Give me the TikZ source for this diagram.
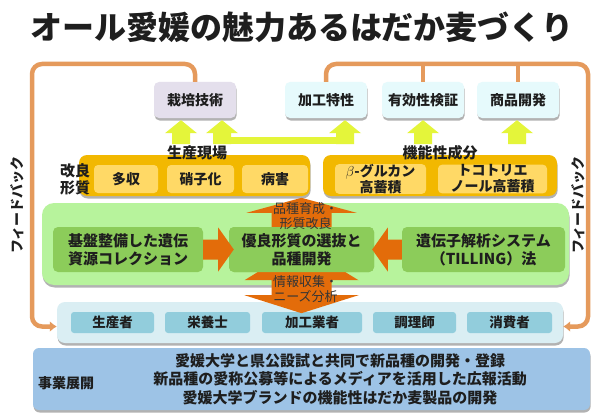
\documentclass[tikz,border=0pt]{standalone}
\usepackage{fontspec}
\setmainfont{Noto Sans CJK JP}
\definecolor{FbOrange}{RGB}{229,154,92}
\definecolor{ArrOrange}{RGB}{227,108,10}
\definecolor{ArrYellow}{RGB}{228,245,58}
\definecolor{Lavender}{RGB}{228,223,236}
\definecolor{IceBlue}{RGB}{230,250,252}
\definecolor{Gold}{RGB}{242,184,0}
\definecolor{LightGold}{RGB}{255,217,102}
\definecolor{PaleGreen}{RGB}{183,243,156}
\definecolor{MidGreen}{RGB}{140,204,90}
\definecolor{PaleCyan}{RGB}{218,238,243}
\definecolor{Teal}{RGB}{146,205,220}
\definecolor{SkyBlue}{RGB}{157,195,230}
\definecolor{InkGray}{RGB}{30,30,30}
\usetikzlibrary{positioning,shadows,calc,arrows.meta}
\newcommand\jfs[2]{\fontsize{#1}{#2}\selectfont}
\tikzset{>=latex}
\tikzset{softshadow/.style={drop shadow={shadow xshift=0.6pt,shadow yshift=-2.5pt,fill=black,opacity=.3}}}
\tikzset{topbox/.style={rectangle,rounded corners=5pt,softshadow,inner sep=0pt,minimum width=82pt,minimum height=36pt,text=InkGray,font=\jfs{14}{17}\bfseries}}
\tikzset{groupbox/.style={rectangle,rounded corners=8pt,fill=Gold,softshadow,inner sep=0pt,minimum height=41pt}}
\tikzset{subbox/.style={rectangle,rounded corners=4pt,fill=LightGold,inner sep=0pt,minimum height=28pt,align=center,text=InkGray,font=\jfs{14}{16}\bfseries}}
\tikzset{labeltext/.style={inner sep=0pt,align=center,text=InkGray,font=\jfs{15}{17}\bfseries}}
\tikzset{greenbox/.style={rectangle,rounded corners=5pt,fill=MidGreen,inner sep=0pt,minimum height=45pt,align=center,text=InkGray,font=\jfs{15}{18}\bfseries}}
\tikzset{actor/.style={rectangle,rounded corners=3pt,fill=Teal,inner sep=0pt,minimum height=21pt,text=InkGray,font=\jfs{13.5}{16}\bfseries}}
\tikzset{arrowtext/.style={inner sep=0pt,align=center,text=InkGray!90,font=\jfs{13}{14.5}}}
\tikzset{fbline/.style={FbOrange,line width=4.5pt,rounded corners=10pt,-{Latex[length=7pt,width=11pt]}}}
\tikzset{fbtext/.style={rotate=90,inner sep=0pt,text=InkGray,font=\jfs{14}{16}\bfseries}}
\tikzset{yarrow/.style={fill=ArrYellow}}
\tikzset{oarrow/.style={fill=ArrOrange}}

\begin{document}
\begin{tikzpicture}[x=1pt,y=-1pt]
    \useasboundingbox[fill=white] (0,0) rectangle (600,420);
    \node[inner sep=0pt,text=InkGray,font=\jfs{32}{36}\bfseries] (title) at (302,27) {オール愛媛の魅力あるはだか麦づくり};

    \node[topbox,fill=Lavender] (saibai) at (195,100) {栽培技術};
    \node[topbox,fill=IceBlue] (kakou) at (326,100) {加工特性};
    \node[topbox,fill=IceBlue] (yuukou) at (423,100) {有効性検証};
    \node[topbox,fill=IceBlue] (shouhin) at (518,100) {商品開発};

    \foreach \n/\dx in {saibai/-14,saibai/27,kakou/19,yuukou/0,shouhin/-1}{
        \fill[yarrow] ($(\n.south)+(\dx,2)$) -- ++(16,13) -- ++(-7,0) -- ++(0,11) -- ++(-18,0) -- ++(0,-11) -- ++(-7,0) -- cycle;
    }
    \fill[yarrow] ($(saibai.south)+(27,19)$) rectangle ($(kakou.south)+(19,26)$);

    \node[groupbox,minimum width=231pt] (seisan) at (194.5,175.5) {};
    \node[groupbox,minimum width=234pt] (kinou) at (440,175.5) {};
    \node[labeltext] (seisanlbl) at (197,153) {生産現場};
    \node[labeltext] (kinoulbl) at (440,153) {機能性成分};
    \node[labeltext] (kairyou) at (75,179) {改良\\形質};
    \node[subbox,minimum width=64pt] (tashuu) at (126,179) {多収};
    \node[subbox,minimum width=67pt] (glass) at (200.5,179) {硝子化};
    \node[subbox,minimum width=66pt] (byougai) at (275,179) {病害};
    \node[subbox,minimum width=91pt] (glucan) at (380.5,179) {$\beta$-グルカン\\高蓄積};
    \node[subbox,minimum width=109pt] (toco) at (492.5,179) {トコトリエ\\ノール高蓄積};

    \node[rectangle,rounded corners=8pt,fill=PaleCyan,softshadow,minimum width=506pt,minimum height=41pt] (actors) at (310,322.5) {};
    \node[actor,minimum width=83pt] (seisansha) at (112.5,322.5) {生産者};
    \node[actor,minimum width=85pt] (eiyoushi) at (207.5,322.5) {栄養士};
    \node[actor,minimum width=100pt] (kakougyousha) at (312,322.5) {加工業者};
    \node[actor,minimum width=83pt] (chouri) at (414.5,322.5) {調理師};
    \node[actor,minimum width=85pt] (shouhisha) at (509.5,322.5) {消費者};

    \node[rectangle,rounded corners=12pt,fill=PaleGreen,softshadow,minimum width=527pt,minimum height=82pt] (green) at (305.5,244) {};
    \node[greenbox,minimum width=145pt] (yuuryou) at (301.5,249.5) {優良形質の選抜と\\品種開発};
    \fill[oarrow] ($(yuuryou.south)+(0,-27)$) -- ++(57,35) -- ++(-27,0) -- ++(0,15) -- ++(27,0) -- ($(yuuryou.south)+(0,41)$) -- ++(-57,-18) -- ++(27,0) -- ++(0,-15) -- ++(-27,0) -- cycle;
    \node[greenbox,minimum width=145pt] at (yuuryou) {優良形質の選抜と\\品種開発};
    \node[greenbox,minimum width=150pt] (kiban) at (128,249.5) {基盤整備した遺伝\\資源コレクション};
    \node[greenbox,minimum width=163pt] (idenshi) at (483.5,249.5) {遺伝子解析システム\\（TILLING）法};

    \fill[oarrow] ($(kiban.east)+(0,-10)$) -- ++(15,0) -- ++(0,-12) -- ($(yuuryou.west)+(5,0)$) -- ($(kiban.east)+(15,22)$) -- ++(0,-12) -- ($(kiban.east)+(0,10)$) -- cycle;
    \fill[oarrow] ($(idenshi.west)+(0,-10)$) -- ++(-14,0) -- ++(0,-12) -- ($(yuuryou.east)+(-2,0)$) -- ($(idenshi.west)+(-14,22)$) -- ++(0,-12) -- ($(idenshi.west)+(0,10)$) -- cycle;
    \fill[oarrow] ($(yuuryou.north)+(-30,0)$) -- ++(0,-14) -- ++(-25,0) -- ($(yuuryou.north)+(0,-29)$) -- ($(yuuryou.north)+(55,-14)$) -- ++(-25,0) -- ($(yuuryou.north)+(30,0)$) -- cycle;
    \node[arrowtext] (ikusei) at ($(yuuryou.north)+(4,-10.5)$) {品種育成・\\形質改良};
    \node[arrowtext] (jouhou) at ($(yuuryou.south)+(4,17)$) {情報収集・\\ニーズ分析};

    \node[rectangle,rounded corners=6pt,fill=SkyBlue,softshadow,minimum width=557pt,minimum height=62pt] (jigyou) at (311.5,379) {};
    \node[labeltext,font=\jfs{14}{16}\bfseries] (jigyoulbl) at (66,383) {事業展開};
    \node[labeltext,font=\jfs{15}{18.5}\bfseries] (jigyoutext) at (340,379) {愛媛大学と県公設試と共同で新品種の開発・登録\\新品種の愛称公募等によるメディアを活用した広報活動\\愛媛大学ブランドの機能性はだか麦製品の開発};

    \coordinate (fbL) at (32,64);
    \coordinate (fbR) at (588,64);
    \draw[fbline] (saibai.north) |- (fbL) |- ([yshift=-4pt]actors.west);
    \draw[fbline] (kakou.north) |- (fbR) |- ([yshift=-4pt]actors.east);
    \draw[fbline,-] (yuukou.north) -- (yuukou.north |- fbR);
    \draw[fbline,-] (shouhin.north) -- (shouhin.north |- fbR);
    \node[fbtext] (fbtextL) at (17,205) {フィードバック};
    \node[fbtext] (fbtextR) at (578,205) {フィードバック};
\end{tikzpicture}
\end{document}
